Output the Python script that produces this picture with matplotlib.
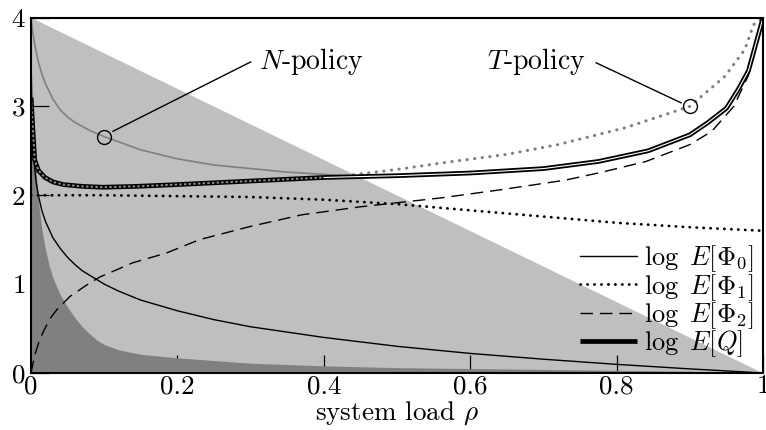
import numpy as np
import matplotlib
matplotlib.use("Agg")
from matplotlib import pyplot as plt

plt.rcParams['font.family'] = 'serif'
plt.rcParams['font.serif'] = ['cmr10']
plt.rcParams['mathtext.fontset'] = 'cm'
plt.rcParams['axes.formatter.use_mathtext'] = True

# --- data (rho, log value) ---
light_x = [0.0, 1.0]
light_y = [4.0, 0.0]

dark_x = [0.0, 0.003, 0.005, 0.008, 0.01, 0.012, 0.015, 0.02, 0.025, 0.03, 0.035, 0.04, 0.05, 0.06,
          0.07, 0.08, 0.09, 0.1, 0.12, 0.15, 0.2, 0.25, 0.3, 0.4, 0.5, 0.6, 0.7, 0.8, 0.9, 1.0]
dark_y = [3.5, 3.0, 2.6, 2.15, 1.95, 1.8, 1.6, 1.38, 1.2, 1.07, 0.97, 0.88, 0.74, 0.62,
          0.52, 0.44, 0.37, 0.32, 0.26, 0.21, 0.17, 0.14, 0.11, 0.08, 0.06, 0.05, 0.04, 0.03, 0.02, 0.0]

phi0_x = [0.001, 0.002, 0.003, 0.005, 0.007, 0.01, 0.015, 0.02, 0.03, 0.04, 0.05, 0.06, 0.07, 0.08,
          0.1, 0.12, 0.15, 0.2, 0.25, 0.3, 0.35, 0.4, 0.5, 0.6, 0.7, 0.8, 0.9, 1.0]
phi0_y = [3.0, 2.7, 2.52, 2.3, 2.15, 2.0, 1.82, 1.7, 1.52, 1.4, 1.3, 1.22, 1.15, 1.1,
          1.0, 0.92, 0.82, 0.7, 0.6, 0.52, 0.46, 0.4, 0.3, 0.22, 0.155, 0.097, 0.046, 0.0]

phi1_x = [0.0, 0.1, 0.2, 0.3, 0.4, 0.5, 0.6, 0.7, 0.8, 0.9, 1.0]
phi1_y = [2.0, 2.0, 1.99, 1.98, 1.95, 1.9, 1.83, 1.76, 1.69, 1.64, 1.6]

phi2_x = [0.0, 0.005, 0.01, 0.016, 0.025, 0.035, 0.053, 0.076, 0.094, 0.139, 0.185, 0.23, 0.3, 0.37,
          0.45, 0.56, 0.64, 0.73, 0.78, 0.84, 0.9, 0.93, 0.96, 0.98, 0.995, 1.0]
phi2_y = [0.0, 0.2, 0.33, 0.45, 0.6, 0.71, 0.86, 0.99, 1.08, 1.24, 1.35, 1.5, 1.65, 1.78,
          1.87, 1.97, 2.06, 2.17, 2.26, 2.38, 2.57, 2.72, 3.0, 3.35, 3.8, 4.0]

q_x = [0.0, 0.005, 0.01, 0.019, 0.03, 0.044, 0.07, 0.098, 0.144, 0.2, 0.3, 0.4, 0.5, 0.6, 0.7, 0.775,
       0.843, 0.9, 0.925, 0.95, 0.966, 0.98, 0.99, 1.0]
q_y = [3.1, 2.4, 2.28, 2.2, 2.15, 2.12, 2.1, 2.09, 2.1, 2.12, 2.16, 2.2, 2.22, 2.25, 2.3, 2.38,
       2.5, 2.68, 2.82, 2.98, 3.19, 3.4, 3.7, 4.0]

npol_x = [0.0, 0.002, 0.005, 0.01, 0.015, 0.02, 0.03, 0.04, 0.05, 0.06, 0.08, 0.1, 0.12, 0.15,
          0.2, 0.25, 0.3, 0.35, 0.43]
npol_y = [4.0, 3.85, 3.7, 3.5, 3.36, 3.25, 3.08, 2.96, 2.88, 2.82, 2.73, 2.66, 2.6, 2.51,
          2.41, 2.34, 2.3, 2.26, 2.22]

tpol_x = [0.43, 0.5, 0.567, 0.65, 0.72, 0.812, 0.9, 0.948, 0.975, 0.987, 1.0]
tpol_y = [2.22, 2.29, 2.37, 2.46, 2.57, 2.76, 3.0, 3.34, 3.64, 3.92, 4.0]

xticks = [0, 0.2, 0.4, 0.6, 0.8, 1]
xticklabels = ['0', '0.2', '0.4', '0.6', '0.8', '1']
yticks = [0, 1, 2, 3, 4]


def main():
    fig = plt.figure(figsize=(7.66, 4.30), dpi=100)
    ax = fig.add_axes([0.0405, 0.1326, 0.9557, 0.8267])

    ax.fill_between(light_x, light_y, 0, color='#bfbfbf', lw=0, zorder=1)
    ax.fill_between(dark_x, dark_y, 0, color='#808080', lw=0, zorder=2)

    ax.plot(npol_x, npol_y, color='#808080', lw=1.2, zorder=3)
    ax.plot(tpol_x, tpol_y, color='#808080', lw=2.2, ls=(0, (0.1, 2.4)),
            dash_capstyle='round', zorder=3)

    ax.plot(phi0_x, phi0_y, color='k', lw=1.0, zorder=4, label=r'$\log\ E[\Phi_0]$')
    ax.plot(phi1_x, phi1_y, color='k', lw=2.0, ls=(0, (0.1, 2.4)),
            dash_capstyle='round', zorder=4, label=r'$\log\ E[\Phi_1]$')
    ax.plot(phi2_x, phi2_y, color='k', lw=1.0, ls=(0, (9, 5)), zorder=4,
            label=r'$\log\ E[\Phi_2]$')

    # thick E[Q] curve drawn as a double line
    ax.plot(q_x, q_y, color='k', lw=3.4, zorder=5, label=r'$\log\ E[Q]$',
            solid_capstyle='butt')
    qx = np.array(q_x)
    qy = np.array(q_y)
    right = qx >= 0.4
    left = qx <= 0.4
    ax.plot(qx[right], qy[right], color='white', lw=0.8, zorder=6)
    ax.plot(qx[left], qy[left], color='#909090', lw=1.4, ls=(0, (1.2, 1.2)), zorder=6)

    # policy annotations
    ax.plot([0.1], [2.66], 'o', ms=10, mfc='none', mec='k', mew=1.0, zorder=7)
    ax.plot([0.9], [3.0], 'o', ms=10, mfc='none', mec='k', mew=1.0, zorder=7)
    ax.plot([0.112, 0.3], [2.72, 3.5], color='k', lw=1.0, zorder=7)
    ax.plot([0.888, 0.772], [3.04, 3.49], color='k', lw=1.0, zorder=7)
    ax.text(0.311, 3.5, r'$N$-policy', fontsize=20, va='center', ha='left', zorder=8)
    ax.text(0.623, 3.5, r'$T$-policy', fontsize=20, va='center', ha='left', zorder=8)

    ax.set_xlim(0, 1)
    ax.set_ylim(0, 4)
    ax.set_xticks(xticks)
    ax.set_xticklabels(xticklabels)
    ax.set_yticks(yticks)
    ax.tick_params(direction='in', length=13, width=0.9, labelsize=19.5, pad=1)
    ax.tick_params(axis='y', pad=4)
    for s in ax.spines.values():
        s.set_linewidth(1.5)
        s.set_zorder(10)
    ax.set_xlabel(r'system load $\rho$', fontsize=19.5, labelpad=1)

    leg = ax.legend(loc='lower right', bbox_to_anchor=(0.986, 0.04), frameon=False,
                    fontsize=19, handlelength=2.15, handletextpad=0.25,
                    labelspacing=-0.1, borderaxespad=0, borderpad=0)
    leg.set_zorder(9)

    fig.savefig('out.png', dpi=100)
    plt.close(fig)


if __name__ == '__main__':
    main()
